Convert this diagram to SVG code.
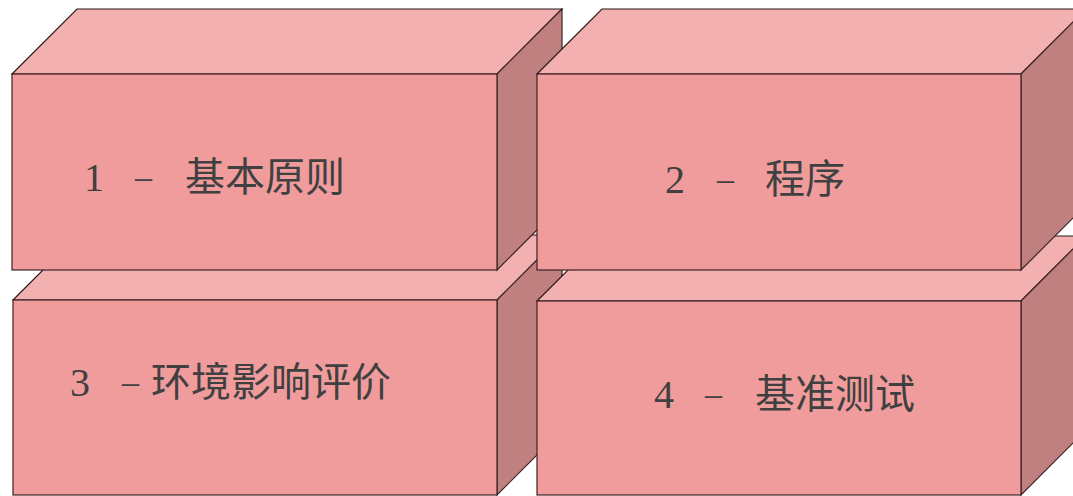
<svg xmlns="http://www.w3.org/2000/svg" width="1073" height="496" viewBox="0 0 1073 496">
<style>
.front{fill:#F09C9C;stroke:#3c2222;stroke-width:1.2}
.top{fill:#F2B0B0;stroke:#2a1a1a;stroke-width:1.2}
.side{fill:#C08080;stroke:#3c2222;stroke-width:1.2}
.lbl{font-family:"Liberation Serif","Noto Sans CJK SC",serif;font-size:40px;fill:#404040}
.dash{font-size:34px}
</style>
<rect width="1073" height="496" fill="#ffffff"/>
<g id="box3">
<polygon class="top" points="13,300 497,300 562,235 78,235"/>
<polygon class="side" points="497,300 562,235 562,430 497,495"/>
<rect class="front" x="13" y="300" width="484" height="195"/>
<text class="lbl"><tspan x="70" y="396">3</tspan><tspan class="dash" x="122" y="393">–</tspan><tspan x="151" y="396">环境影响评价</tspan></text>
</g>
<g id="box4">
<polygon class="top" points="537,301 1021,301 1086,236 602,236"/>
<polygon class="side" points="1021,301 1086,236 1086,430 1021,495"/>
<rect class="front" x="537" y="301" width="484" height="194"/>
<text class="lbl"><tspan x="654" y="408">4</tspan><tspan class="dash" x="705" y="405">–</tspan><tspan x="755" y="408">基准测试</tspan></text>
</g>
<g id="box1">
<polygon class="top" points="12,74 497,74 562,9 77,9"/>
<polygon class="side" points="497,74 562,9 562,205 497,270"/>
<rect class="front" x="12" y="74" width="485" height="196"/>
<text class="lbl"><tspan x="84" y="191">1</tspan><tspan class="dash" x="135" y="188">–</tspan><tspan x="185" y="191">基本原则</tspan></text>
</g>
<g id="box2">
<polygon class="top" points="537,74 1021,74 1086,9 602,9"/>
<polygon class="side" points="1021,74 1086,9 1086,205 1021,270"/>
<rect class="front" x="537" y="74" width="484" height="196"/>
<text class="lbl"><tspan x="665" y="193">2</tspan><tspan class="dash" x="717" y="190">–</tspan><tspan x="765" y="193">程序</tspan></text>
</g>
<g id="connectors"></g>
</svg>
